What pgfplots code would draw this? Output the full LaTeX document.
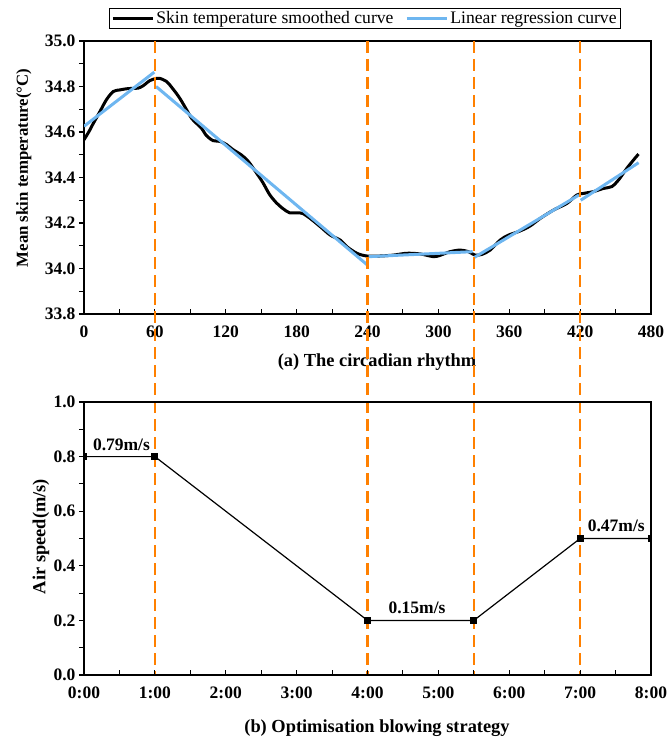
\documentclass[border=0pt]{standalone}
\usepackage{fontspec}
\setmainfont{Liberation Serif}
\usepackage{pgfplots}
\pgfplotsset{compat=1.18}

\definecolor{regblue}{RGB}{110,182,240}
\definecolor{guideorange}{RGB}{255,128,0}

\pgfplotsset{
  panel/.style={
    scale only axis, width=567pt, height=273pt,
    axis line style={line width=1.2pt},
    tick align=outside,
    major tick length=5pt, minor tick length=5pt,
    tick style={line width=1.1pt, black},
    x tick style={yshift=5pt},
    xtick pos=bottom, ytick pos=left,
    tick label style={font=\fontsize{17.5}{20}\selectfont\bfseries},
    x tick label style={yshift=-3pt},
    /pgf/number format/assume math mode=true,
    xmin=0, xmax=480, xtick={0,60,...,480}, minor x tick num=1,
    minor y tick num=1,
    yticklabel style={/pgf/number format/.cd, fixed, fixed zerofill, precision=1},
    xlabel style={font=\fontsize{18.4}{21}\selectfont\bfseries, anchor=center},
    ylabel style={anchor=center, rotate=0},
  }
}

\begin{document}
\begin{tikzpicture}
\path[use as bounding box] (-84pt,41pt) rectangle (583pt,-702pt);

% (a) skin temperature over the session
\begin{axis}[panel, name=top, at={(0pt,0pt)}, anchor=north west,
  ymin=33.8, ymax=35.0,
  ytick={33.8,34.0,34.2,34.4,34.6,34.8,35.0},
  xlabel={(a) The circadian rhythm},
  xlabel style={at={(axis description cs:0.5168,-0.1758)}},
  ylabel={Mean skin temperature(°C)},
  ylabel style={at={(axis description cs:-0.106,0.535)}, font=\fontsize{16.8}{19}\selectfont\bfseries},
  legend columns=2,
  legend style={at={(0.4956,1.0824)}, anchor=center, draw=black, line width=0.8pt,
    font=\fontsize{17.6}{20}\selectfont, inner xsep=2pt, inner ysep=1pt,
    /tikz/every even column/.append style={column sep=10pt}},
  legend image code/.code={\draw[#1] (0pt,0pt) -- (40pt,0pt);},
]
\addplot[black, line width=3pt, smooth, tension=0.5] coordinates {
  (0,34.566) (4,34.600) (8,34.639) (13.5,34.690) (19,34.742) (24.8,34.778)
  (30.4,34.785) (36,34.790) (42,34.792) (46,34.793) (50,34.803) (55.8,34.826)
  (61.4,34.836) (64,34.836) (69.9,34.822) (75.5,34.788) (81,34.749) (86.8,34.698)
  (91,34.661) (95,34.639) (99.4,34.617) (103.7,34.584) (109.3,34.562) (115,34.559)
  (120.6,34.545) (126,34.523) (133,34.500) (138.9,34.472) (146,34.420) (151.5,34.377)
  (157,34.326) (162.8,34.289) (168.5,34.263) (174,34.245) (179.7,34.245) (185,34.242)
  (191.5,34.220) (200,34.184) (208.4,34.147) (216.9,34.125) (222.5,34.096) (231,34.067)
  (239.4,34.055) (250.7,34.055) (262,34.059) (273.3,34.067) (284.6,34.064) (295.9,34.052)
  (301.5,34.058) (310,34.074) (318.4,34.081) (325.5,34.074) (331,34.059) (336.8,34.062)
  (343.8,34.081) (352.3,34.125) (359.4,34.147) (369.2,34.165) (377.7,34.187) (386.2,34.220)
  (397.5,34.257) (408.8,34.286) (417.2,34.323) (422.8,34.330) (431.3,34.338) (439.8,34.352)
  (446.8,34.360) (452.5,34.389) (459.5,34.440) (465.2,34.477) (469.4,34.503)
};
\addlegendentry{Skin temperature smoothed curve}
\addplot[regblue, line width=3pt] coordinates {(0,34.625) (59.5,34.863)};
\addlegendentry{Linear regression curve}
\addplot[regblue, line width=3pt, forget plot] coordinates {(61,34.800) (240,34.015)};
\addplot[regblue, line width=3pt, forget plot] coordinates {(241,34.052) (329,34.074)};
\addplot[regblue, line width=3pt, forget plot] coordinates {(330.5,34.049) (419,34.323)};
\addplot[regblue, line width=3pt, forget plot] coordinates {(420.5,34.300) (469.5,34.465)};
\coordinate (t60) at (axis cs:60,35);
\coordinate (t240) at (axis cs:240,35);
\coordinate (t330) at (axis cs:330,35);
\coordinate (t420) at (axis cs:420,35);
\end{axis}

% phase boundaries running down through both panels (panel b ends 634pt below the top)
\foreach \k in {60,240,330,420} {
  \draw[guideorange, line width=2.2pt, dash pattern=on 12pt off 6pt] (t\k) -- ++(0pt,-634pt);
}

% (b) air speed schedule
\begin{axis}[panel, name=bot, at={(0pt,-361pt)}, anchor=north west,
  ymin=0, ymax=1.0,
  ytick={0,0.2,0.4,0.6,0.8,1.0},
  xticklabels={0:00,1:00,2:00,3:00,4:00,5:00,6:00,7:00,8:00},
  xlabel={(b) Optimisation blowing strategy},
  xlabel style={at={(axis description cs:0.5168,-0.194)}},
  ylabel={Air speed(m/s)},
  ylabel style={at={(axis description cs:-0.0758,0.507)}, font=\fontsize{18.4}{21}\selectfont\bfseries},
  clip marker paths=true,
]
\addplot[black, line width=1.2pt, mark=square*, mark size=2.8pt,
  mark options={solid}] coordinates {
  (0,0.8) (60,0.8) (240,0.2) (330,0.2) (420,0.5) (480,0.5)
};
\node[font=\fontsize{17.5}{20}\selectfont\bfseries] at (axis cs:31.7,0.844) {0.79m/s};
\node[font=\fontsize{17.5}{20}\selectfont\bfseries] at (axis cs:281.9,0.247) {0.15m/s};
\node[font=\fontsize{17.5}{20}\selectfont\bfseries] at (axis cs:450.6,0.546) {0.47m/s};
\end{axis}
\end{tikzpicture}
\end{document}
